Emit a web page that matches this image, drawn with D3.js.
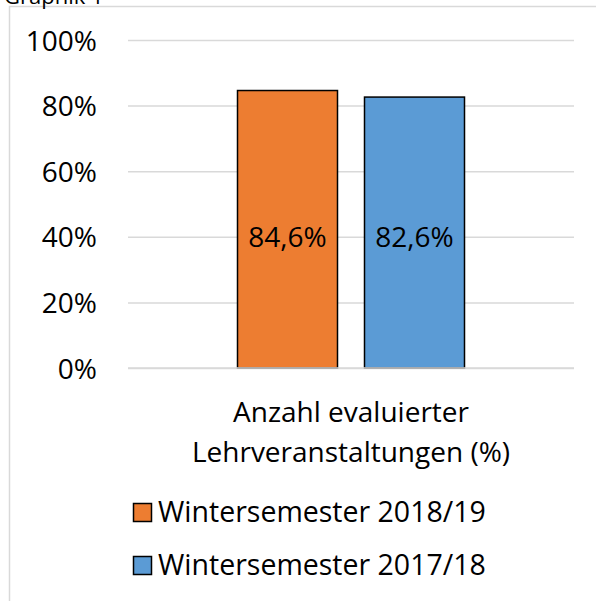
<!DOCTYPE html>
<html>
<head>
<meta charset="utf-8">
<script src="https://cdn.jsdelivr.net/npm/d3@7"></script>
<style>
  body { margin: 0; background: #fff; }
  svg text { font-family: 'Open Sans', sans-serif; fill: #000; }
</style>
</head>
<body>
<div id="chart"></div>
<script>
const categories = ['Anzahl evaluierter Lehrveranstaltungen (%)']
const seriesNames = ['Wintersemester 2018/19', 'Wintersemester 2017/18']
const seriesColors = ['#ed7d31', '#5b9bd5']
const ws1819 = [84.6]
const ws1718 = [82.6]
const yTicks = [0, 20, 40, 60, 80, 100]

const width = 596
const height = 601
const margin = { top: 40, right: 22, bottom: 233, left: 128 }
const innerW = width - margin.left - margin.right
const innerH = height - margin.top - margin.bottom
const fontSize = '28px'

const svg = d3.select('#chart')
  .append('svg')
  .attr('width', width)
  .attr('height', height)

// chart frame (cut off at right and bottom)
svg.append('rect')
  .attr('x', 9.5)
  .attr('y', 6.5)
  .attr('width', 700)
  .attr('height', 700)
  .attr('fill', 'none')
  .attr('stroke', '#d9d9d9')
  .attr('stroke-width', 1.5)

svg.append('text')
  .attr('x', 4)
  .attr('y', 4)
  .style('font-size', '22px')
  .text('Graphik 1')

const g = svg.append('g')
  .attr('transform', `translate(${margin.left}, ${margin.top})`)

const x0 = d3.scaleBand().domain(categories).range([0, innerW])
const y = d3.scaleLinear().domain([0, 100]).range([innerH, 0])

const series = [ws1819, ws1718]
const barW = 100
const gap = 27
const x1 = d3.scaleBand().domain(seriesNames)
  .range([x0.bandwidth() / 2 - barW - gap / 2, x0.bandwidth() / 2 + barW + gap / 2])
  .paddingInner(gap / (barW + gap))

// gridlines
g.append('g')
  .attr('class', 'grid')
  .call(d3.axisLeft(y).tickValues(yTicks).tickSize(-innerW).tickFormat(''))
  .call((s) => s.select('.domain').remove())
  .call((s) => s.selectAll('line').attr('stroke', '#d9d9d9').attr('stroke-width', 1.5))

// y tick labels
g.append('g')
  .call(d3.axisLeft(y).tickValues(yTicks).tickSize(0).tickPadding(31).tickFormat((d) => d + '%'))
  .call((s) => s.select('.domain').remove())
  .call((s) => s.selectAll('text').style('font-size', fontSize).attr('dy', '0.36em'))

// bars
categories.forEach((cat, ci) => {
  series.forEach((vals, si) => {
    const v = vals[ci]
    const bx = x0(cat) + x1(seriesNames[si])
    g.append('rect')
      .attr('x', bx)
      .attr('y', y(v))
      .attr('width', x1.bandwidth())
      .attr('height', y(0) - y(v))
      .attr('fill', seriesColors[si])
      .attr('stroke', '#000')
      .attr('stroke-width', 1.5)

    g.append('text')
      .attr('x', bx + x1.bandwidth() / 2)
      .attr('y', y(40))
      .attr('dy', '0.36em')
      .attr('text-anchor', 'middle')
      .style('font-size', fontSize)
      .text(v.toFixed(1).replace('.', ',') + '%')
  })
})

// baseline
g.append('line')
  .attr('x1', 0)
  .attr('x2', innerW)
  .attr('y1', y(0))
  .attr('y2', y(0))
  .attr('stroke', '#d9d9d9')
  .attr('stroke-width', 1.5)

// category label (wrapped)
const catLines = ['Anzahl evaluierter', 'Lehrveranstaltungen (%)']
catLines.forEach((line, i) => {
  g.append('text')
    .attr('x', x0(categories[0]) + x0.bandwidth() / 2)
    .attr('y', innerH + 54 + i * 40)
    .attr('text-anchor', 'middle')
    .style('font-size', fontSize)
    .text(line)
})

// legend
const legend = svg.append('g')
  .attr('transform', 'translate(133, 503)')

seriesNames.forEach((name, i) => {
  const row = legend.append('g').attr('transform', `translate(0, ${i * 53})`)
  row.append('rect')
    .attr('x', 0.5)
    .attr('y', 0.5)
    .attr('width', 18)
    .attr('height', 18)
    .attr('fill', seriesColors[i])
    .attr('stroke', '#000')
    .attr('stroke-width', 1.5)
  row.append('text')
    .attr('x', 25)
    .attr('y', 9)
    .attr('dy', '0.36em')
    .style('font-size', '28.5px')
    .text(name)
})
</script>
</body>
</html>
